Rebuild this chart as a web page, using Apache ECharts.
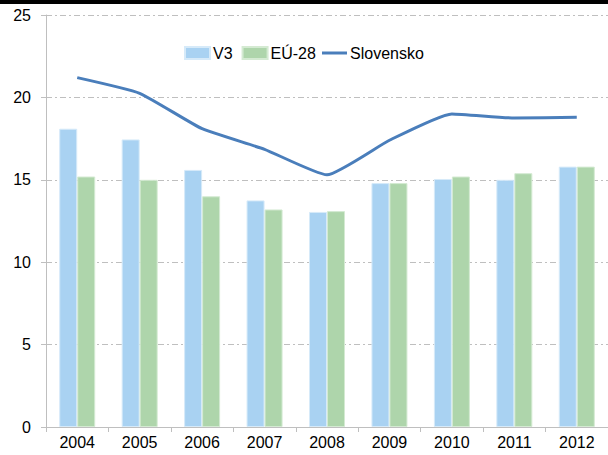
<!DOCTYPE html>
<html>
<head>
<meta charset="utf-8">
<script src="https://cdn.jsdelivr.net/npm/echarts@6/dist/echarts.min.js"></script>
<style>
  html, body { margin: 0; padding: 0; background: #fff; }
  #chart { width: 608px; height: 455px; }
</style>
</head>
<body>
<div id="chart"></div>
<script>
const years = ["2004", "2005", "2006", "2007", "2008", "2009", "2010", "2011", "2012"];
const v3 = [18.1, 17.45, 15.6, 13.75, 13.05, 14.8, 15.05, 15.0, 15.8];
const eu28 = [15.2, 15.0, 14.0, 13.2, 13.1, 14.8, 15.2, 15.4, 15.8];
const slovensko = [21.2, 20.25, 18.1, 16.85, 15.3, 17.4, 19.0, 18.75, 18.8];

const chart = echarts.init(document.getElementById("chart"), null, { renderer: "svg" });

const font = "'Liberation Sans', Arial, sans-serif";
const legendText = { fontSize: 16, color: "#000", fontFamily: font, padding: [0, 0, 0, -2] };

chart.setOption({
  animation: false,
  textStyle: { fontFamily: font },
  graphic: [
    { type: "rect", left: 0, top: 0, shape: { width: 608, height: 4 }, style: { fill: "#000" }, z: 100 }
  ],
  legend: [
    {
      top: 40,
      left: 179,
      itemWidth: 25,
      itemHeight: 12,
      itemGap: 9,
      textStyle: legendText,
      data: [
        { name: "V3", icon: "rect" },
        { name: "EÚ-28", icon: "rect" }
      ]
    },
    {
      // ciara v legende bez bodu
      top: 40,
      left: 317,
      itemWidth: 25,
      itemHeight: 3,
      textStyle: legendText,
      data: [{ name: "Slovensko", icon: "rect" }]
    }
  ],
  grid: { left: 46, right: -2, top: 15, bottom: 28, containLabel: false },
  xAxis: {
    type: "category",
    data: years,
    axisLine: { lineStyle: { color: "#bfbfbf", width: 1 } },
    axisTick: { show: true, length: 5, lineStyle: { color: "#bfbfbf" } },
    axisLabel: { fontSize: 16, color: "#000", margin: 7, fontFamily: font }
  },
  yAxis: {
    type: "value",
    min: 0,
    max: 25,
    interval: 5,
    axisLine: { show: true, lineStyle: { color: "#bfbfbf", width: 1 } },
    axisTick: { show: true, length: 5, lineStyle: { color: "#bfbfbf" } },
    axisLabel: { fontSize: 16, color: "#000", margin: 15, fontFamily: font },
    splitLine: { show: true, lineStyle: { color: "#bfbfbf", type: [6, 3, 2, 3], width: 1 } }
  },
  series: [
    {
      name: "V3",
      type: "bar",
      data: v3,
      barWidth: 18,
      barGap: "0%",
      itemStyle: { color: "#a9d2f2", borderColor: "#d6eaf9", borderWidth: 1 }
    },
    {
      name: "EÚ-28",
      type: "bar",
      data: eu28,
      barWidth: 18,
      itemStyle: { color: "#aed5ab", borderColor: "#d4ead2", borderWidth: 1 }
    },
    {
      name: "Slovensko",
      type: "line",
      data: slovensko,
      smooth: 0.15,
      symbol: "none",
      lineStyle: { color: "#4a7ebb", width: 3 },
      itemStyle: { color: "#4a7ebb" }
    }
  ]
});
</script>
</body>
</html>
